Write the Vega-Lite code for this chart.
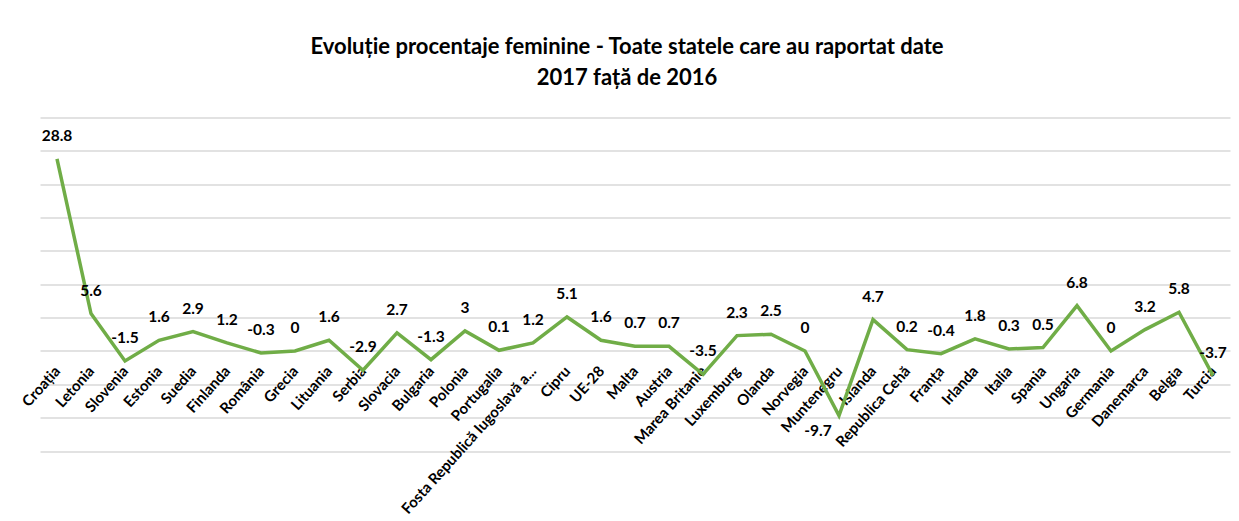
{
  "$schema": "https://vega.github.io/schema/vega-lite/v6.json",
  "autosize": {"type": "none"},
  "width": 1190,
  "height": 333.5,
  "padding": {"left": 40, "top": 117.5, "right": 9, "bottom": 70},
  "background": "white",
  "title": {
    "text": ["Evoluție procentaje  feminine - Toate statele care au raportat date", "2017 față de 2016"],
    "font": "Lato",
    "fontSize": 22,
    "fontWeight": "bold",
    "color": "#000000",
    "anchor": "middle",
    "dx": -8,
    "lineHeight": 31,
    "offset": 28
  },
  "data": {
    "values": [
      {"tara": "Croația", "valoare": 28.8},
      {"tara": "Letonia", "valoare": 5.6},
      {"tara": "Slovenia", "valoare": -1.5},
      {"tara": "Estonia", "valoare": 1.6},
      {"tara": "Suedia", "valoare": 2.9},
      {"tara": "Finlanda", "valoare": 1.2},
      {"tara": "România", "valoare": -0.3},
      {"tara": "Grecia", "valoare": 0},
      {"tara": "Lituania", "valoare": 1.6},
      {"tara": "Serbia", "valoare": -2.9},
      {"tara": "Slovacia", "valoare": 2.7},
      {"tara": "Bulgaria", "valoare": -1.3},
      {"tara": "Polonia", "valoare": 3},
      {"tara": "Portugalia", "valoare": 0.1},
      {"tara": "Fosta Republică Iugoslavă a...", "valoare": 1.2},
      {"tara": "Cipru", "valoare": 5.1},
      {"tara": "UE-28", "valoare": 1.6},
      {"tara": "Malta", "valoare": 0.7},
      {"tara": "Austria", "valoare": 0.7},
      {"tara": "Marea Britanie", "valoare": -3.5},
      {"tara": "Luxemburg", "valoare": 2.3},
      {"tara": "Olanda", "valoare": 2.5},
      {"tara": "Norvegia", "valoare": 0},
      {"tara": "Muntenegru", "valoare": -9.7},
      {"tara": "Islanda", "valoare": 4.7},
      {"tara": "Republica Cehă", "valoare": 0.2},
      {"tara": "Franța", "valoare": -0.4},
      {"tara": "Irlanda", "valoare": 1.8},
      {"tara": "Italia", "valoare": 0.3},
      {"tara": "Spania", "valoare": 0.5},
      {"tara": "Ungaria", "valoare": 6.8},
      {"tara": "Germania", "valoare": 0},
      {"tara": "Danemarca", "valoare": 3.2},
      {"tara": "Belgia", "valoare": 5.8},
      {"tara": "Turcia", "valoare": -3.7}
    ]
  },
  "encoding": {
    "x": {
      "field": "tara",
      "type": "nominal",
      "sort": null,
      "scale": {"type": "point", "padding": 0.5},
      "axis": {
        "title": null,
        "offset": -100,
        "domain": false,
        "ticks": false,
        "grid": false,
        "labelAngle": -48,
        "labelFont": "Lato",
        "labelFontSize": 15,
        "labelFontWeight": "bold",
        "labelColor": "#000000",
        "labelPadding": 17,
        "labelLimit": 300
      }
    },
    "y": {
      "field": "valoare",
      "type": "quantitative",
      "scale": {"domain": [-15, 35], "nice": false, "zero": false},
      "axis": {
        "title": null,
        "labels": false,
        "ticks": false,
        "domain": false,
        "values": [-15, -10, -5, 0, 5, 10, 15, 20, 25, 30, 35],
        "grid": true,
        "gridColor": "#d9d9d9",
        "gridWidth": 1.5
      }
    }
  },
  "layer": [
    {
      "mark": {"type": "line", "color": "#70AD47", "strokeWidth": 3.5, "strokeJoin": "miter"}
    },
    {
      "transform": [{"filter": "datum.tara !== 'Muntenegru'"}],
      "mark": {"type": "text", "dy": -23, "font": "Lato", "fontSize": 15.5, "fontWeight": "bold", "color": "#000000"},
      "encoding": {"text": {"field": "valoare", "type": "nominal"}}
    },
    {
      "transform": [{"filter": "datum.tara === 'Muntenegru'"}],
      "mark": {"type": "text", "dy": 15, "dx": -21, "font": "Lato", "fontSize": 15.5, "fontWeight": "bold", "color": "#000000"},
      "encoding": {"text": {"field": "valoare", "type": "nominal"}}
    }
  ],
  "config": {"view": {"stroke": null}}
}
